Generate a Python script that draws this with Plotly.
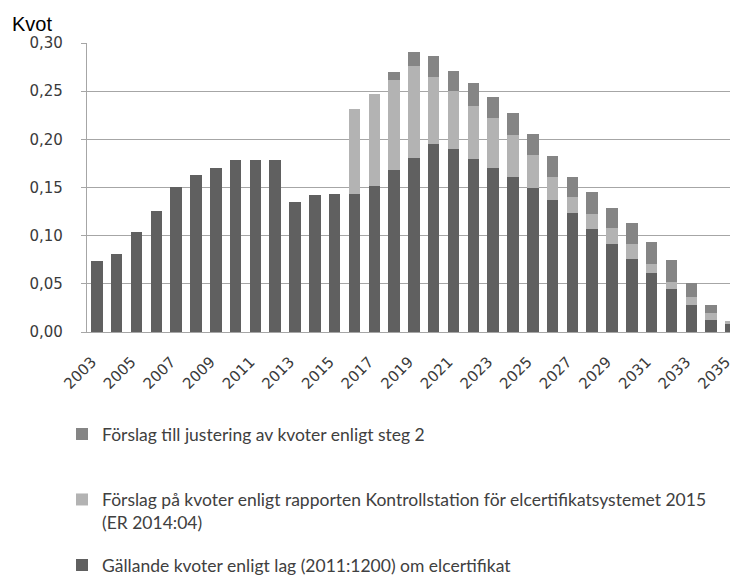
import plotly.graph_objects as go

years = list(range(2003, 2036))

# Gällande kvoter enligt lag (2011:1200) om elcertifikat
gallande = [0.074, 0.081, 0.104, 0.126, 0.151, 0.163, 0.170, 0.179, 0.179, 0.179,
            0.135, 0.142, 0.143, 0.143, 0.152, 0.168, 0.181, 0.195, 0.190, 0.180,
            0.170, 0.161, 0.149, 0.137, 0.124, 0.107, 0.091, 0.076, 0.061, 0.045,
            0.028, 0.012, 0.008]

# Förslag på kvoter enligt ER 2014:04 (increment above current law)
er2014 = [0, 0, 0, 0, 0, 0, 0, 0, 0, 0,
          0, 0, 0, 0.088, 0.095, 0.094, 0.095, 0.070, 0.060, 0.055,
          0.052, 0.043, 0.035, 0.024, 0.016, 0.016, 0.017, 0.015, 0.010, 0.007,
          0.008, 0.008, 0.003]

# Förslag till justering av kvoter enligt steg 2 (increment)
steg2 = [0, 0, 0, 0, 0, 0, 0, 0, 0, 0,
         0, 0, 0, 0, 0, 0.008, 0.015, 0.022, 0.021, 0.023,
         0.022, 0.023, 0.022, 0.022, 0.021, 0.022, 0.021, 0.022, 0.022, 0.023,
         0.015, 0.008, 0.0]

tick_years = list(range(2003, 2036, 2))
tick_labels = [str(y) for y in tick_years]
y_ticks = [0, 0.05, 0.10, 0.15, 0.20, 0.25, 0.30]

name_gallande = "Gällande kvoter enligt lag (2011:1200) om elcertifikat"
name_er = "Förslag på kvoter enligt rapporten Kontrollstation för elcertifikatsystemet 2015<br>(ER 2014:04)"
# trailing blank line keeps the legend rows evenly spaced like the original
name_steg2 = "Förslag till justering av kvoter enligt steg 2<br> "

fig = go.Figure()
fig.add_trace(go.Bar(x=years, y=gallande, name=name_gallande, legendgroup="a", legendrank=3,
                     marker=dict(color="#606060", line=dict(width=0))))
fig.add_trace(go.Bar(x=years, y=er2014, name=name_er, legendgroup="b", legendrank=2,
                     marker=dict(color="#b3b3b3", line=dict(width=0))))
fig.add_trace(go.Bar(x=years, y=steg2, name=name_steg2, legendgroup="c", legendrank=1,
                     marker=dict(color="#858585", line=dict(width=0))))

tick_font = dict(family="DejaVu Sans", size=15, color="#3a3a3a")

# the page adds an 8 px body margin, so the figure is 8 px smaller on each axis
fig.update_layout(
    template="none",
    width=730, height=569,
    barmode="stack", bargap=0.42,
    separators=",.",
    paper_bgcolor="white", plot_bgcolor="white",
    margin=dict(l=79, r=0, t=35, b=245, autoexpand=False),
    showlegend=True,
    legend=dict(
        x=-0.0384, y=-0.291, xanchor="left", yanchor="top",
        orientation="v", traceorder="grouped",
        tracegroupgap=17, valign="top",
        font=dict(family="Lato", size=17.5, color="#404040"),
        bgcolor="rgba(0,0,0,0)", borderwidth=0,
    ),
    xaxis=dict(
        range=[2002.5, 2035.36],
        tickmode="array", tickvals=tick_years, ticktext=tick_labels,
        tickangle=-45, tickfont=tick_font, ticklabeloverflow="allow",
        showgrid=False, zeroline=False, automargin=False,
        showline=True, linecolor="#a6a6a6", linewidth=1.3,
        ticks="", ticklabelstandoff=14, ticklabelshift=-5,
    ),
    yaxis=dict(
        range=[0, 0.30],
        tickmode="array", tickvals=y_ticks, tickformat=".2f",
        tickfont=tick_font, automargin=False,
        showgrid=True, gridcolor="#a6a6a6", gridwidth=1.3,
        zeroline=False,
        showline=True, linecolor="#a6a6a6", linewidth=1.3,
        ticks="outside", ticklen=5, tickcolor="#a6a6a6", tickwidth=1.3,
        ticklabelstandoff=15,
    ),
    annotations=[dict(
        text="Kvot", xref="paper", yref="paper",
        x=-0.118, y=1.0, xanchor="left", yanchor="bottom", yshift=6,
        showarrow=False,
        font=dict(family="Liberation Sans", size=20, color="#000000"),
    )],
)

fig.write_html("out.html")
